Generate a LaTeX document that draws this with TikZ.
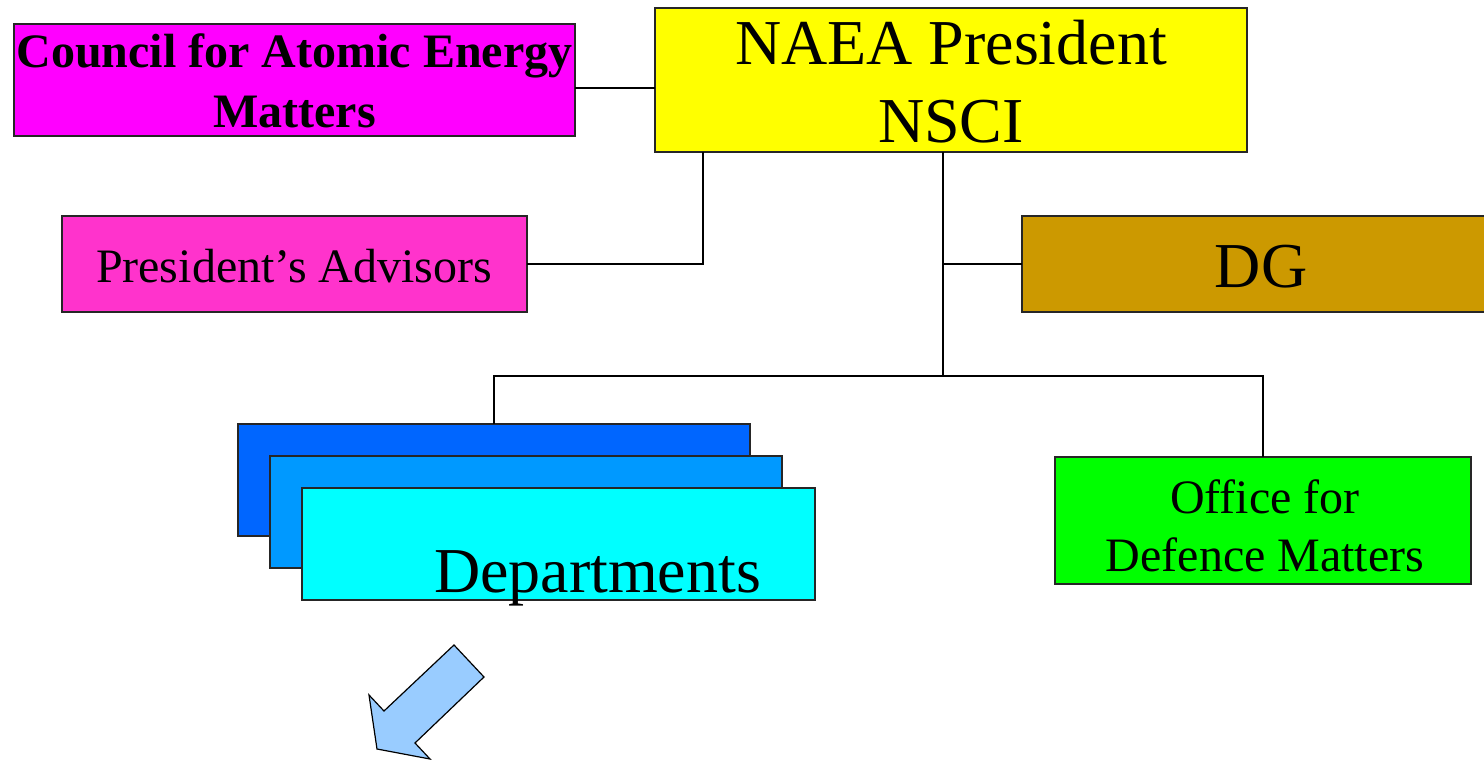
\documentclass[tikz,border=0pt]{standalone}
\usepackage{fontspec}
\setmainfont{Liberation Serif}
\definecolor{cMag}{HTML}{FF00FF}
\definecolor{cPink}{HTML}{FF33CC}
\definecolor{cYel}{HTML}{FFFF00}
\definecolor{cGold}{HTML}{CC9900}
\definecolor{cBlueA}{HTML}{0066FF}
\definecolor{cBlueB}{HTML}{0099FF}
\definecolor{cCyan}{HTML}{00FFFF}
\definecolor{cGreen}{HTML}{00FF00}
\definecolor{cArrow}{HTML}{99CCFF}
\begin{document}
\begin{tikzpicture}[x=1pt,y=-1pt,
  box/.style={draw=black!85, line width=1.5pt, inner sep=0pt, outer sep=0pt, rectangle},
  conn/.style={draw=black, line width=1.5pt},
  lbl/.style={inner sep=0pt, outer sep=0pt, anchor=base},
  big/.style={lbl, font=\fontsize{64}{77}\selectfont},
  mid/.style={lbl, font=\fontsize{48}{58}\selectfont},
  midb/.style={lbl, font=\fontsize{48}{58}\selectfont\bfseries}]
\useasboundingbox (0,0) rectangle (1484,760);

% boxes
\node[box, fill=cMag, minimum width=561pt, minimum height=112pt] (council) at (294.5,80) {};
\node[box, fill=cYel, minimum width=592pt, minimum height=144pt] (naea) at (951,80) {};
\node[box, fill=cPink, minimum width=465pt, minimum height=96pt] (adv) at (294.5,264) {};
\node[box, fill=cGold, minimum width=464pt, minimum height=96pt] (dg) at (1254,264) {};
\node[box, fill=cBlueA, minimum width=512pt, minimum height=112pt] (dept1) at (494,480) {};
\node[box, fill=cBlueB, minimum width=512pt, minimum height=112pt] (dept2) at (526,512) {};
\node[box, fill=cCyan, minimum width=513pt, minimum height=112pt] (dept3) at (558.5,544) {};
\node[box, fill=cGreen, minimum width=416pt, minimum height=127pt] (office) at (1263,520.5) {};

% junction coordinates
\coordinate (j1) at (703,152);
\coordinate (j2) at (943,152);
\coordinate (j3) at (943,376);

% connectors
\draw[conn] (council.east |- 0,88) -- (naea.west |- 0,88);
\draw[conn] (adv.east) -| (j1);
\draw[conn] (j2) -- (j3);
\draw[conn] (dg.west) -- (dg.west -| j2);
\draw[conn] (j3) -| (dept1.north);
\draw[conn] (j3) -| (office.north);

% labels
\node[midb] (tc1) at (294.5,68) {Council for Atomic Energy};
\node[midb] (tc2) at (294.5,127) {Matters};
\node[big] (tn1) at (951,65) {NAEA President};
\node[big] (tn2) at (951,142) {NSCI};
\node[mid] (ta) at (294,282) {President’s Advisors};
\node[big] (td) at (1261,287) {DG};
\node[big] (tdep) at (597.5,592) {Departments};
\node[mid] (to1) at (1265,513) {Office for};
\node[mid] (to2) at (1265,571) {Defence Matters};

% block arrow
\draw[fill=cArrow, draw=black, line width=1.2pt, line join=miter]
  (454,645) -- (484,677) -- (415,743) -- (430,759) -- (377,749) -- (369,695) -- (384,711) -- cycle;
\end{tikzpicture}
\end{document}
